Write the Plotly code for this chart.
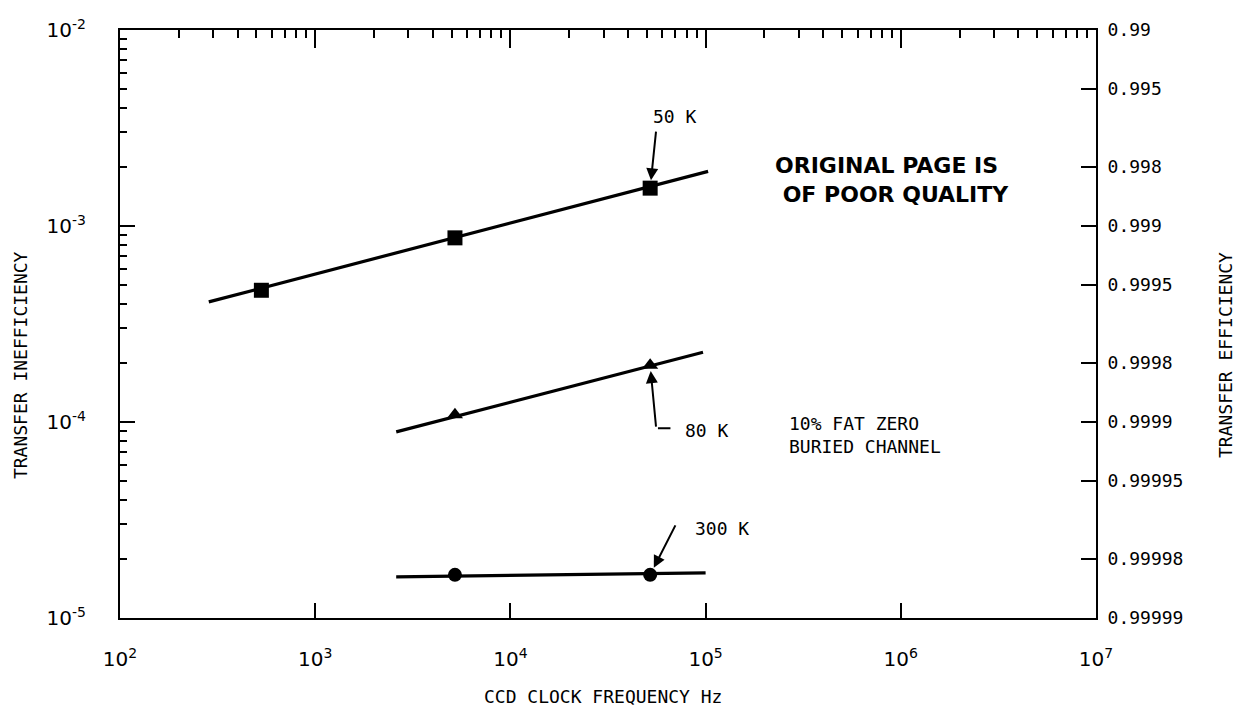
import numpy as np
import plotly.graph_objects as go

# Measured transfer inefficiency vs CCD clock frequency
freq_50K = [530, 5200, 52000]
ineff_50K = [4.7e-4, 8.7e-4, 1.56e-3]
fit_50K_x = [285, 103000]
fit_50K_y = [4.1e-4, 1.9e-3]

freq_80K = [5200, 52000]
ineff_80K = [1.09e-4, 1.95e-4]
fit_80K_x = [2600, 97000]
fit_80K_y = [8.9e-5, 2.27e-4]

freq_300K = [5200, 52000]
ineff_300K = [1.66e-5, 1.66e-5]
fit_300K_x = [2600, 100000]
fit_300K_y = [1.62e-5, 1.70e-5]

# Axis ticks
x_decades = [1e2, 1e3, 1e4, 1e5, 1e6, 1e7]
x_exponents = ["2", "3", "4", "5", "6", "7"]
y_decades = [1e-5, 1e-4, 1e-3, 1e-2]
y_exponents = ["-5", "-4", "-3", "-2"]
efficiency_labels = ["0.99", "0.995", "0.998", "0.999", "0.9995",
                     "0.9998", "0.9999", "0.99995", "0.99998", "0.99999"]

def power_label(exp):
    return "10<sup>" + exp + "</sup>"

efficiency_vals = [1 - float(s) for s in efficiency_labels]
x_minor = [m * 10.0 ** e for e in range(2, 7) for m in range(2, 10)]
y_minor = [m * 10.0 ** e for e in range(-5, -2) for m in range(2, 10)]

MONO = "DejaVu Sans Mono"
SANS = "DejaVu Sans"
INK = "black"

fig = go.Figure()

def series(fx, fy, px, py, symbol, size):
    fig.add_trace(go.Scatter(x=fx, y=fy, mode="lines",
                             line=dict(color=INK, width=3.2), showlegend=False,
                             hoverinfo="skip"))
    fig.add_trace(go.Scatter(x=px, y=py, mode="markers",
                             marker=dict(symbol=symbol, size=size, color=INK),
                             showlegend=False))

series(fit_50K_x, fit_50K_y, freq_50K, ineff_50K, "square", 15)
series(fit_80K_x, fit_80K_y, freq_80K, ineff_80K, "triangle-up", 14)
series(fit_300K_x, fit_300K_y, freq_300K, ineff_300K, "circle", 14)

# invisible trace so the mirrored axes are laid out
fig.add_trace(go.Scatter(x=[1e3], y=[1e-3], xaxis="x2", yaxis="y2",
                         mode="markers", marker=dict(opacity=0),
                         showlegend=False, hoverinfo="skip"))

axis_common = dict(type="log", showgrid=False, zeroline=False, showline=True,
                   linecolor=INK, linewidth=2, ticks="inside", tickcolor=INK,
                   tickwidth=2)

fig.update_layout(
    width=1238, height=710,
    margin=dict(l=120, r=142, t=30, b=92),
    paper_bgcolor="white", plot_bgcolor="white",
    font=dict(family=MONO, color=INK, size=16),
    xaxis=dict(**axis_common, range=[2, 7], ticklen=15,
               tickmode="array", tickvals=x_decades,
               ticktext=[power_label(e) for e in x_exponents],
               tickfont=dict(family=SANS, size=20), ticklabelstandoff=22),
    xaxis2=dict(**axis_common, range=[2, 7], overlaying="x", side="top",
                ticklen=18, tickmode="array", tickvals=x_decades,
                showticklabels=False,
                minor=dict(tickmode="array", tickvals=x_minor, ticks="inside",
                           ticklen=8, tickcolor=INK, tickwidth=2)),
    yaxis=dict(**axis_common, range=[-5, -2], ticklen=15,
               tickmode="array", tickvals=y_decades,
               ticktext=[power_label(e) for e in y_exponents],
               tickfont=dict(family=SANS, size=20), ticklabelstandoff=28,
               minor=dict(tickmode="array", tickvals=y_minor, ticks="inside",
                          ticklen=7, tickcolor=INK, tickwidth=2)),
    yaxis2=dict(**axis_common, range=[-5, -2], overlaying="y", side="right",
                ticklen=15, tickmode="array", tickvals=efficiency_vals,
                ticktext=efficiency_labels,
                tickfont=dict(family=MONO, size=18), ticklabelstandoff=6),
)

ann = []
def label(text, x, y, size=18, **kw):
    ann.append(dict(text=text, x=np.log10(x), y=np.log10(y), xref="x", yref="y",
                    showarrow=False, font=dict(family=MONO, size=size, color=INK), **kw))

def arrow(x, y, ax, ay, head=2, standoff=0):
    ann.append(dict(text="", x=np.log10(x), y=np.log10(y), xref="x", yref="y",
                    ax=ax, ay=ay, axref="pixel", ayref="pixel", showarrow=True,
                    arrowhead=head, arrowsize=1.2, arrowwidth=2, arrowcolor=INK,
                    standoff=standoff))

# curve labels and pointers
label("50 K", 7.0e4, 3.6e-3)
arrow(freq_50K[2], ineff_50K[2], 6, -58, standoff=8)
label("80 K", 7.7e4, 9.1e-5, xanchor="left")
arrow(freq_80K[1], ineff_80K[1], 6, 63, standoff=6)
arrow(5.7e4, 9.3e-5, 14, 0, head=0)
label("300 K", 8.6e4, 2.87e-5, xanchor="left")
arrow(freq_300K[1], ineff_300K[1], 26, -51, standoff=8)
label("10% FAT ZERO<br>BURIED CHANNEL", 2.6e5, 8.6e-5, xanchor="left", align="left")

# stamp
ann.append(dict(text="ORIGINAL PAGE IS<br> OF POOR QUALITY",
                x=np.log10(2.21e5), y=np.log10(1.72e-3),
                xref="x", yref="y", xanchor="left", yanchor="middle", align="left",
                showarrow=False,
                font=dict(family=SANS, size=22, color=INK, weight="bold")))

# axis titles
ann.append(dict(text="TRANSFER INEFFICIENCY", xref="paper", yref="paper",
                x=-0.1025, y=0.43, xanchor="center", yanchor="middle",
                textangle=-90, showarrow=False,
                font=dict(family=MONO, size=18, color=INK)))
ann.append(dict(text="TRANSFER EFFICIENCY", xref="paper", yref="paper",
                x=1.132, y=0.447, xanchor="center", yanchor="middle",
                textangle=-90, showarrow=False,
                font=dict(family=MONO, size=18, color=INK)))
ann.append(dict(text="CCD CLOCK FREQUENCY Hz", xref="paper", yref="paper",
                x=0.495, y=-0.134, xanchor="center", yanchor="middle",
                showarrow=False, font=dict(family=MONO, size=18, color=INK)))

fig.update_layout(annotations=ann)
fig.write_html("out.html")
